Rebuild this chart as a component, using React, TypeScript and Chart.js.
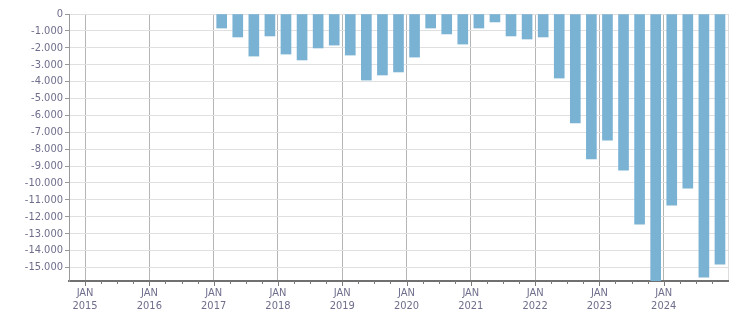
import React, { useEffect, useRef } from "react";
import { Chart, registerables } from "chart.js";

Chart.register(...registerables);

const quarters: string[] = [
  "2017 Q1", "2017 Q2", "2017 Q3", "2017 Q4",
  "2018 Q1", "2018 Q2", "2018 Q3", "2018 Q4",
  "2019 Q1", "2019 Q2", "2019 Q3", "2019 Q4",
  "2020 Q1", "2020 Q2", "2020 Q3", "2020 Q4",
  "2021 Q1", "2021 Q2", "2021 Q3", "2021 Q4",
  "2022 Q1", "2022 Q2", "2022 Q3", "2022 Q4",
  "2023 Q1", "2023 Q2", "2023 Q3", "2023 Q4",
  "2024 Q1", "2024 Q2", "2024 Q3", "2024 Q4",
];

const values: number[] = [
  -830, -1360, -2490, -1300,
  -2370, -2720, -2010, -1840,
  -2430, -3910, -3610, -3430,
  -2550, -830, -1180, -1780,
  -830, -470, -1300, -1480,
  -1360, -3790, -6450, -8580,
  -7460, -9240, -12430, -15780,
  -11310, -10300, -15570, -14800,
];

const yTickValues: number[] = [
  0, -1000, -2000, -3000, -4000, -5000, -6000, -7000,
  -8000, -9000, -10000, -11000, -12000, -13000, -14000, -15000,
];

const X_MIN = 2014.75;
const X_MAX = 2025;
const Y_MIN = -15800;
const Y_MAX = 0;

const TEXT_COLOR = "#6e6e8c";
const FONT = { family: "'DejaVu Sans Condensed', 'Liberation Sans', sans-serif", size: 11 };

function fmt(v: number): string {
  const n = Math.round(Math.abs(v));
  const thousands = Math.floor(n / 1000);
  const rest = n % 1000;
  const s = thousands > 0 ? thousands + "." + String(rest).padStart(3, "0") : String(rest);
  return (v < 0 ? "-" : "") + s;
}

function quarterToX(q: string): number {
  const [y, qq] = q.split(" Q");
  return Number(y) + (Number(qq) - 1) * 0.25 + 0.125;
}

const isYear = (v: number) => Math.abs(v - Math.round(v)) < 1e-6;

const tickPlugin = {
  id: "quarterTicks",
  afterDraw(chart: any) {
    const xs = chart.scales.x;
    const ctx = chart.ctx;
    const bottom = chart.chartArea.bottom;
    ctx.save();
    ctx.strokeStyle = "#7a7a7a";
    ctx.lineWidth = 1;
    xs.ticks.forEach((t: any) => {
      if (t.value <= X_MIN + 1e-6 || t.value >= X_MAX - 1e-6) return;
      const px = Math.round(xs.getPixelForValue(t.value)) + 0.5;
      const len = isYear(t.value) ? 5 : 3;
      ctx.beginPath();
      ctx.moveTo(px, bottom);
      ctx.lineTo(px, bottom + len);
      ctx.stroke();
    });
    ctx.restore();
  },
};

export default function App() {
  const ref = useRef<HTMLCanvasElement | null>(null);

  useEffect(() => {
    if (!ref.current) return;
    const data = quarters.map((q, i) => ({ x: quarterToX(q), y: values[i] }));
    const chart = new Chart(ref.current, {
      type: "bar",
      data: {
        datasets: [
          {
            data: data as any,
            backgroundColor: "#7ab2d4",
            borderWidth: 0,
            barThickness: 10,
          },
        ],
      },
      plugins: [tickPlugin],
      options: {
        animation: false,
        responsive: true,
        maintainAspectRatio: false,
        layout: { padding: { top: 14, right: 23, left: 0, bottom: 0 } },
        plugins: { legend: { display: false }, tooltip: { enabled: false } },
        scales: {
          x: {
            type: "linear",
            offset: false,
            min: X_MIN,
            max: X_MAX,
            afterFit: (s: any) => {
              s.height = 32;
            },
            ticks: {
              stepSize: 0.25,
              autoSkip: false,
              maxRotation: 0,
              padding: 1,
              color: TEXT_COLOR,
              font: { ...FONT, lineHeight: 1.15 },
              callback: (v: any) => (isYear(Number(v)) && Number(v) < X_MAX ? ["JAN", String(Math.round(Number(v)))] : ""),
            },
            grid: {
              offset: false,
              drawTicks: true,
              tickLength: 5,
              tickColor: "rgba(0,0,0,0)",
              color: (c: any) => {
                const v = c.tick ? c.tick.value : 0;
                if (Math.abs(v - X_MAX) < 1e-6) return "#dddddd";
                if (v <= X_MIN + 1e-6) return "rgba(0,0,0,0)";
                return isYear(v) ? "#b5b5b5" : "rgba(0,0,0,0)";
              },
            },
            border: { display: true, color: "#707070", width: 2 },
          },
          y: {
            type: "linear",
            min: Y_MIN,
            max: Y_MAX,
            afterFit: (s: any) => {
              s.width = 69;
            },
            afterBuildTicks: (s: any) => {
              s.ticks = yTickValues.map((v) => ({ value: v }));
            },
            ticks: {
              autoSkip: false,
              padding: 2,
              color: TEXT_COLOR,
              font: FONT,
              callback: (v: any) => fmt(Number(v)),
            },
            grid: {
              color: "#e0e0e0",
              tickColor: "#999999",
              tickLength: 4,
            },
            border: { display: true, color: "#9a9a9a", width: 1 },
          },
        },
      },
    });
    return () => chart.destroy();
  }, []);

  return (
    <div style={{ position: "fixed", left: 0, top: 0, width: 751, height: 313 }}>
      <canvas ref={ref} />
    </div>
  );
}
